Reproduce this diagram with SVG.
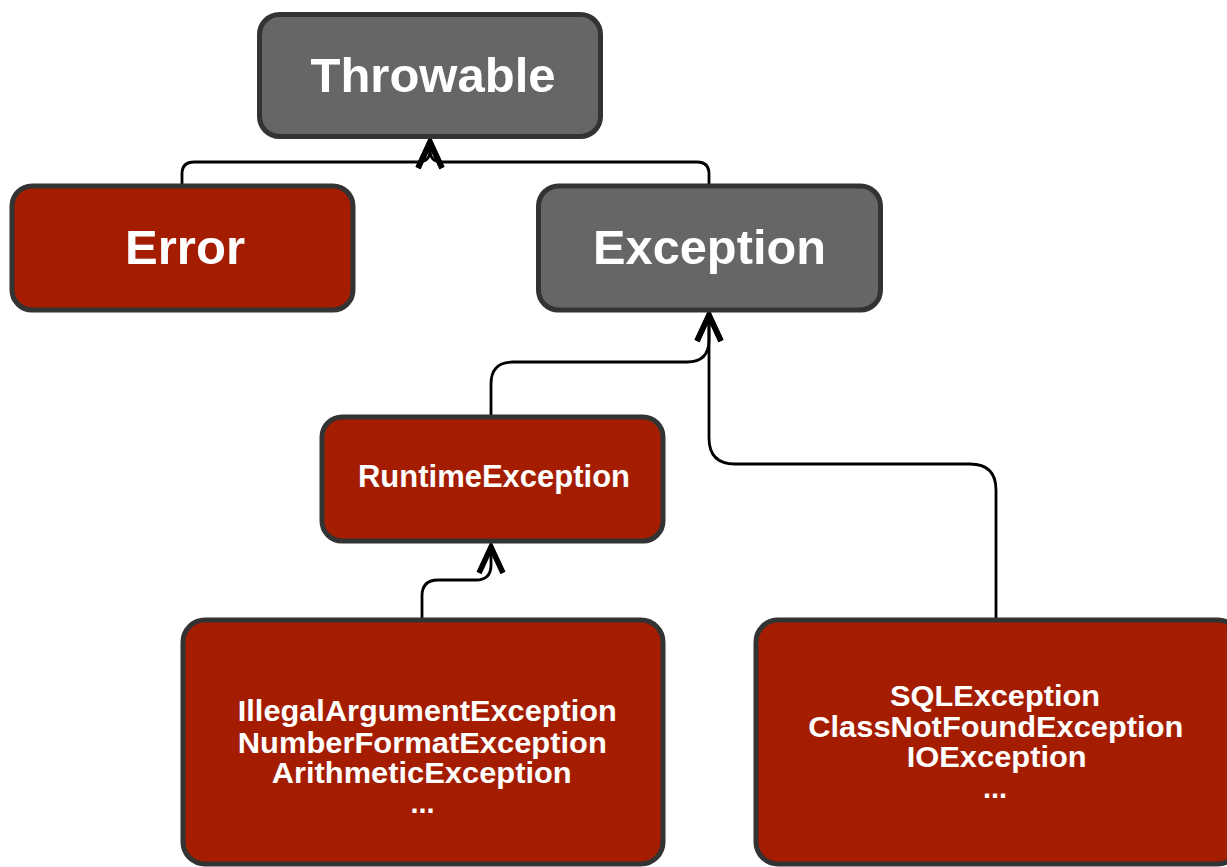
<svg xmlns="http://www.w3.org/2000/svg" width="1227" height="867" viewBox="0 0 1227 867">
  <style>
    .box { stroke: #333333; stroke-width: 5; }
    .gray { fill: #666666; }
    .red { fill: #A51D00; }
    .label { font-family: "Liberation Sans", Arial, Helvetica, sans-serif; font-weight: bold; fill: #ffffff; text-anchor: middle; }
    .big { font-size: 49px; }
    .mid { font-size: 31px; }
    .small { font-size: 29px; }
    .edge { fill: none; stroke: #000000; stroke-width: 2.8; stroke-linejoin: round; }
  </style>
  <defs>
    <marker id="openArrow" markerUnits="userSpaceOnUse" markerWidth="40" markerHeight="40" viewBox="-32 -16 40 32" refX="0" refY="0" orient="auto" overflow="visible">
      <path d="M-28,-12 L-2,0 L-28,12" fill="none" stroke="#000000" stroke-width="5.5" stroke-linejoin="miter"/>
    </marker>
  </defs>

  <rect width="1227" height="867" fill="#ffffff"/>

  <!-- inheritance connectors -->
  <g id="connectors">
    <path class="edge" d="M182,184 L182,174 Q182,162 194,162 L418,162 Q430,162 430,150 L430,140" marker-end="url(#openArrow)"/>
    <path class="edge" d="M709,184 L709,174 Q709,162 697,162 L442,162 Q430,162 430,150 L430,140" marker-end="url(#openArrow)"/>
    <path class="edge" d="M491,416 L491,384 Q491,362 513,362 L687,362 Q709,362 709,340 L709,313" marker-end="url(#openArrow)"/>
    <path class="edge" d="M996,618 L996,490 Q996,464 970,464 L735,464 Q709,464 709,438 L709,313" marker-end="url(#openArrow)"/>
    <path class="edge" d="M422,618 L422,596 Q422,580 438,580 L476,580 Q491,580 491,565 L491,545" marker-end="url(#openArrow)"/>
  </g>

  <g id="throwable">
    <rect class="box gray" x="259.5" y="14.5" width="341" height="122" rx="20" ry="20"/>
    <text class="label big" x="433" y="92" textLength="245" lengthAdjust="spacingAndGlyphs">Throwable</text>
  </g>

  <g id="error">
    <rect class="box red" x="12" y="186" width="341" height="124" rx="20" ry="20"/>
    <text class="label big" x="185" y="264" textLength="120" lengthAdjust="spacingAndGlyphs">Error</text>
  </g>

  <g id="exception">
    <rect class="box gray" x="538.5" y="186" width="342" height="124" rx="20" ry="20"/>
    <text class="label big" x="709.5" y="264" textLength="233" lengthAdjust="spacingAndGlyphs">Exception</text>
  </g>

  <g id="runtime-exception">
    <rect class="box red" x="322" y="417" width="341" height="124" rx="20" ry="20"/>
    <text class="label mid" x="494" y="487" textLength="272" lengthAdjust="spacingAndGlyphs">RuntimeException</text>
  </g>

  <g id="unchecked-subclasses">
    <rect class="box red" x="183" y="620" width="480" height="244" rx="22" ry="22"/>
    <text class="label small" x="427.3" y="721" textLength="379" lengthAdjust="spacingAndGlyphs">IllegalArgumentException</text>
    <text class="label small" x="422.3" y="752.5" textLength="369" lengthAdjust="spacingAndGlyphs">NumberFormatException</text>
    <text class="label small" x="421.7" y="783" textLength="300" lengthAdjust="spacingAndGlyphs">ArithmeticException</text>
    <text class="label small" x="422.5" y="813">...</text>
  </g>

  <g id="checked-subclasses">
    <rect class="box red" x="756" y="620" width="484" height="244" rx="22" ry="22"/>
    <text class="label small" x="995" y="706" textLength="210" lengthAdjust="spacingAndGlyphs">SQLException</text>
    <text class="label small" x="995.8" y="736.7" textLength="375" lengthAdjust="spacingAndGlyphs">ClassNotFoundException</text>
    <text class="label small" x="996.7" y="766.7" textLength="180" lengthAdjust="spacingAndGlyphs">IOException</text>
    <text class="label small" x="995" y="798">...</text>
  </g>
</svg>
